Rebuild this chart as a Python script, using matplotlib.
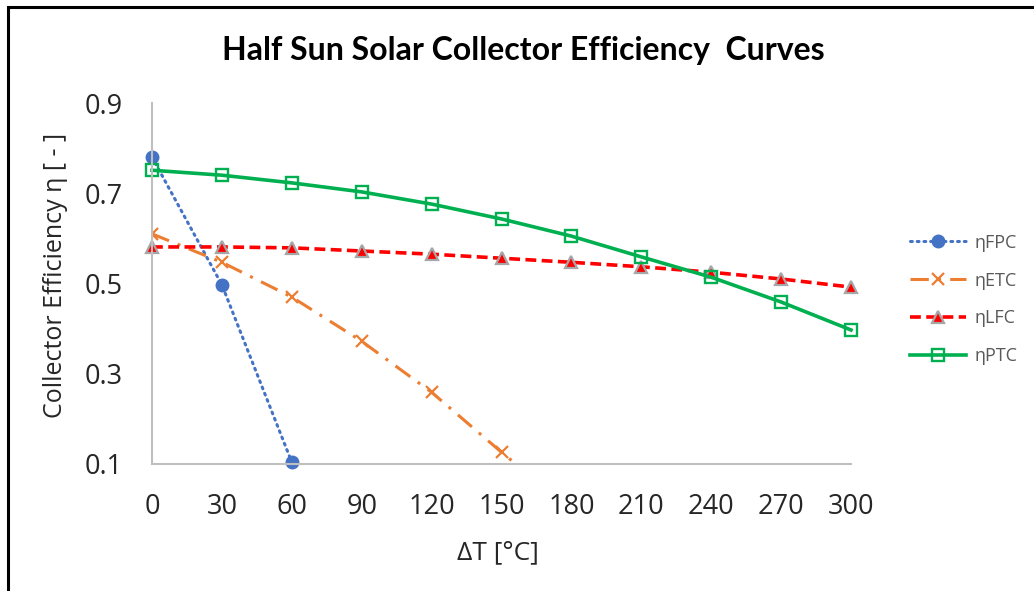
import numpy as np
import matplotlib
matplotlib.use("Agg")
import matplotlib.pyplot as plt
from matplotlib.patches import Rectangle

# data
dT = [0, 30, 60, 90, 120, 150, 180, 210, 240, 270, 300]
fpc = [0.780, 0.497, 0.104]
etc = [0.610, 0.547, 0.470, 0.372, 0.259, 0.126, 0.0]
lfc = [0.581, 0.581, 0.579, 0.572, 0.565, 0.556, 0.547, 0.537, 0.525, 0.510, 0.492]
ptc = [0.751, 0.740, 0.723, 0.703, 0.676, 0.643, 0.605, 0.559, 0.514, 0.459, 0.397]
labels = ["\u03b7FPC", "\u03b7ETC", "\u03b7LFC", "\u03b7PTC"]
xticks = [0, 30, 60, 90, 120, 150, 180, 210, 240, 270, 300]
yticks = [0.1, 0.3, 0.5, 0.7, 0.9]

fig = plt.figure(figsize=(10.34, 5.91), dpi=100)

# outer frame of the chart area
fig.patches.append(Rectangle((8 / 1034, -0.1), 1.2, (591 - 7) / 591 + 0.1,
                             transform=fig.transFigure, fill=False,
                             edgecolor="black", linewidth=2.2))

ax = fig.add_axes([152 / 1034, (591 - 464) / 591, (851 - 152) / 1034, (464 - 103) / 591])

ax.plot(dT[:len(fpc)], fpc, color="#4472C4", linestyle=(0, (0.6, 1.6)),
        dash_capstyle="round", linewidth=2.2, marker="o", markersize=9,
        label=labels[0], clip_on=False)
ax.plot(dT[:len(etc)], etc, color="#ED7D31", linestyle=(0, (6, 3, 1, 3)),
        linewidth=2.2, marker="x", markersize=9, markeredgewidth=1.6,
        label=labels[1])
ax.plot(dT, lfc, color="#FF0000", linestyle=(0, (3, 1.5)), linewidth=2.6,
        marker="^", markersize=9, markerfacecolor="#FF0000",
        markeredgecolor="#A6A6A6", markeredgewidth=1.6, label=labels[2],
        clip_on=False)
ax.plot(dT, ptc, color="#00B050", linestyle="-", linewidth=2.6,
        marker="s", markersize=8.5, markerfacecolor="none",
        markeredgewidth=1.7, label=labels[3], clip_on=False)

ax.set_xlim(0, 300)
ax.set_ylim(0.1, 0.9)
ax.set_xticks(xticks)
ax.set_yticks(yticks)
ax.set_yticklabels([f"{v:.1f}" for v in yticks])
ax.tick_params(axis="y", length=0, labelsize=19.5, pad=21, labelcolor="#262626")
ax.tick_params(axis="x", length=0, labelsize=19.5, pad=21, labelcolor="#262626")
for t in ax.get_xticklabels() + ax.get_yticklabels():
    t.set_family("Open Sans")

for s in ["top", "right"]:
    ax.spines[s].set_visible(False)
for s in ["left", "bottom"]:
    ax.spines[s].set_color("#BFBFBF")
    ax.spines[s].set_linewidth(1.5)

ax.set_xlabel("\u0394T [\u00b0C]", fontsize=19, family="Open Sans",
              color="#262626", va="center")
ax.xaxis.set_label_coords(0.495, (464 - 553) / 361)
ax.set_ylabel("Collector Efficiency \u03b7 [ - ]", fontsize=18,
              family="Open Sans", color="#262626", va="center")
ax.yaxis.set_label_coords((55 - 152) / 699, (464 - 275) / 361)

fig.text(0.506, 0.915, "Half Sun Solar Collector Efficiency  Curves",
         ha="center", va="center", fontsize=23, fontweight="bold",
         family="Lato", color="black")

leg = ax.legend(loc="upper left", bbox_to_anchor=(0.8646, 0.632),
                bbox_transform=fig.transFigure, frameon=False,
                labelspacing=1.1, handlelength=3.1,
                handletextpad=0.45, prop={"family": "Open Sans", "size": 13})
for t in leg.get_texts():
    t.set_color("#595959")

fig.savefig("out.png", dpi=100)
